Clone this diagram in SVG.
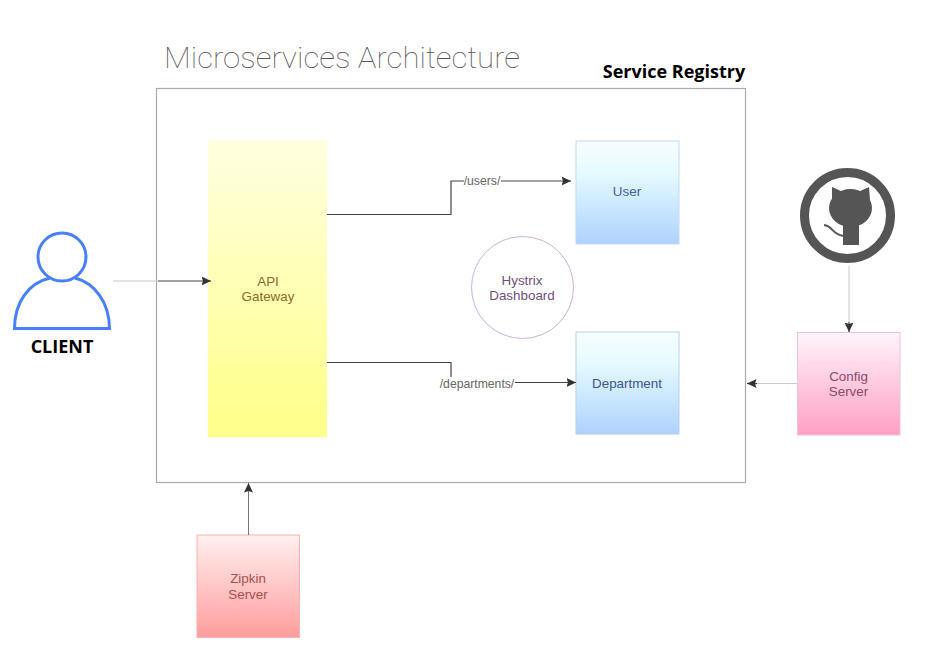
<svg xmlns="http://www.w3.org/2000/svg" width="932" height="666" viewBox="0 0 932 666">
<style>
text{font-family:"Liberation Sans",Arial,sans-serif;font-size:13.4px;text-anchor:middle}
.bold{font-family:"Open Sans","Noto Sans",sans-serif;font-weight:700;font-size:18px;fill:#000}
.title{font-family:Roboto,"Liberation Sans",sans-serif;font-weight:100;font-size:30px;fill:#555;text-anchor:start}
.lbl{fill:#666;font-size:12.2px}
.dark{fill:none;stroke:#444;stroke-width:1.2}
.thin{fill:none;stroke:#777;stroke-width:1}
.pale{fill:none;stroke:#c8c8c8;stroke-width:1}
</style>
<defs>
<linearGradient id="y" x1="0" y1="0" x2="0" y2="1"><stop offset="0" stop-color="#ffffe0"/><stop offset="1" stop-color="#ffff88"/></linearGradient>
<linearGradient id="b" x1="0" y1="0" x2="0" y2="1"><stop offset="0" stop-color="#f7fdff"/><stop offset=".3" stop-color="#e6fbff"/><stop offset="1" stop-color="#aed2fd"/></linearGradient>
<linearGradient id="p" x1="0" y1="0" x2="0" y2="1"><stop offset="0" stop-color="#fff4fb"/><stop offset="1" stop-color="#ff9fc4"/></linearGradient>
<linearGradient id="r" x1="0" y1="0" x2="0" y2="1"><stop offset="0" stop-color="#fff0f0"/><stop offset="1" stop-color="#ff9c9c"/></linearGradient>
<marker id="a" markerWidth="11" markerHeight="10" refX="9.500" refY="4.500" orient="auto" markerUnits="userSpaceOnUse"><path d="M0 0L9.500 4.500L0 9L1.500 4.500Z" fill="#333"/></marker>
</defs>
<text class="title" x="164" y="68" textLength="356" lengthAdjust="spacingAndGlyphs">Microservices Architecture</text>
<text class="bold" x="674" y="78">Service Registry</text>
<g id="registry"><rect x="156.500" y="88.500" width="589" height="394" fill="#fff" stroke="#aaa" stroke-width="1.200"/></g>
<g id="gateway"><rect x="208" y="140" width="119" height="297" fill="url(#y)"/><text x="268" y="286" fill="#8a6a2a">API</text><text x="268" y="301" fill="#8a6a2a">Gateway</text></g>
<g id="user"><rect x="576" y="141" width="103" height="103" fill="url(#b)" stroke="#c4d8f4"/><text x="627" y="196" fill="#4a6096">User</text></g>
<g id="department"><rect x="576" y="332" width="103" height="102" fill="url(#b)" stroke="#b9cfee"/><text x="627" y="388" fill="#3d5590">Department</text></g>
<g id="hystrix"><circle cx="522.500" cy="287.500" r="51" fill="#fff" stroke="#c9b3d6" stroke-width="1"/><text x="522" y="285" fill="#705078">Hystrix</text><text x="522" y="300" fill="#705078">Dashboard</text></g>
<g id="config"><rect x="797.500" y="332.500" width="102.500" height="102.500" fill="url(#p)" stroke="#ecc4d4"/><text x="848.500" y="381" fill="#8c4a6c">Config</text><text x="848.500" y="396" fill="#8c4a6c">Server</text></g>
<g id="zipkin"><rect x="197" y="535" width="102.500" height="102.500" fill="url(#r)" stroke="#ffb0b0"/><text x="248" y="583" fill="#a85050">Zipkin</text><text x="248" y="599" fill="#a85050">Server</text></g>
<g id="client"><circle cx="62" cy="257" r="24" fill="#fff" stroke="#4a7ffa" stroke-width="3"/><path d="M50 278C28 283 14.500 303 14.500 328.500H109.500C109.500 303 95 283 75 278" fill="none" stroke="#4a7ffa" stroke-width="3"/><text class="bold" x="62" y="353">CLIENT</text></g>
<g id="github"><circle cx="847.500" cy="215.500" r="43" fill="#fff" stroke="#555" stroke-width="9"/><ellipse cx="850.500" cy="208" rx="21.500" ry="19" fill="#555"/><path d="M832 200L832 187L843 192H858L869 187L870 200Z" fill="#555"/><rect x="843" y="222" width="16" height="23" fill="#555"/><path d="M824 225C833 226 832 235 844 236" fill="none" stroke="#555" stroke-width="2"/></g>
<g id="connectors">
<path class="pale" d="M113 281H158"/>
<path class="dark" d="M158 281H211" marker-end="url(#a)"/>
<path class="dark" d="M327 214.500H451V181H464"/>
<path class="dark" d="M501 181H571" marker-end="url(#a)"/>
<path class="dark" d="M327 362.500H451V377"/>
<path class="dark" d="M515 382.500H576" marker-end="url(#a)"/>
<path class="pale" d="M849 266V322"/>
<path class="dark" d="M849 322V332" marker-end="url(#a)"/>
<path class="pale" d="M797 383.500H757"/>
<path class="dark" d="M757 383.500H747" marker-end="url(#a)"/>
<path class="thin" d="M248.500 535V483" marker-end="url(#a)"/>
<text class="lbl" x="482" y="185">/users/</text>
<text class="lbl" x="477" y="388">/departments/</text>
</g>
</svg>
